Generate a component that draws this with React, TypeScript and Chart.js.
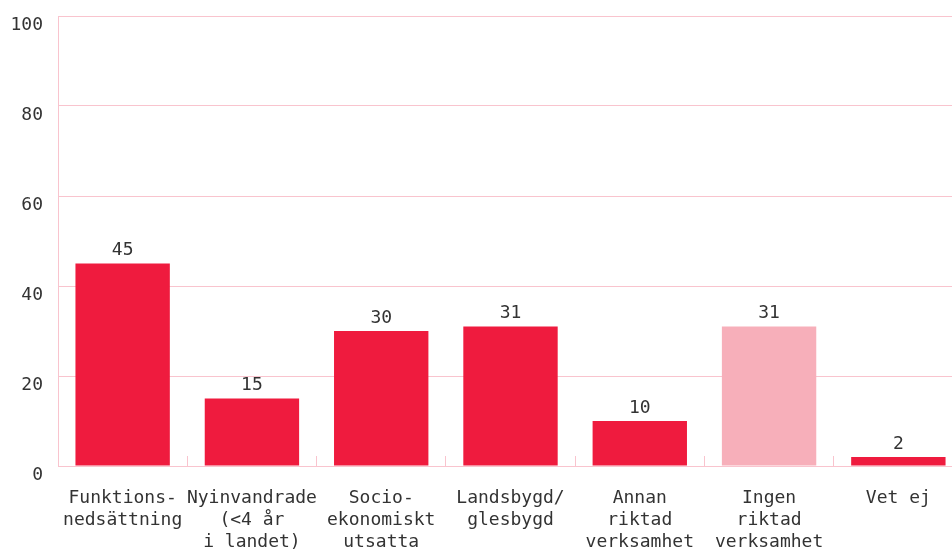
import React, { useEffect, useRef } from "react";
import { Chart, registerables } from "chart.js";

Chart.register(...registerables);

const categories: string[][] = [
  ["Funktions-", "nedsättning"],
  ["Nyinvandrade", "(<4 år", "i landet)"],
  ["Socio-", "ekonomiskt", "utsatta"],
  ["Landsbygd/", "glesbygd"],
  ["Annan", "riktad", "verksamhet"],
  ["Ingen", "riktad", "verksamhet"],
  ["Vet ej"],
];
const values: number[] = [45, 15, 30, 31, 10, 31, 2];
const barColors: string[] = ["#EF1B3E", "#EF1B3E", "#EF1B3E", "#EF1B3E", "#EF1B3E", "#F7AFBA", "#EF1B3E"];
const yTicks: number[] = [0, 20, 40, 60, 80, 100];

const FONT = "'DejaVu Sans Mono', 'Liberation Mono', monospace";
const TEXT = "#333333";
const GRID = "#F9C4CE";

const valueLabels = {
  id: "valueLabels",
  afterDatasetsDraw(chart: any) {
    const ctx = chart.ctx;
    const meta = chart.getDatasetMeta(0);
    ctx.save();
    ctx.font = `18px ${FONT}`;
    ctx.fillStyle = TEXT;
    ctx.textAlign = "center";
    ctx.textBaseline = "bottom";
    meta.data.forEach((el: any, i: number) => {
      ctx.fillText(String(values[i]), el.x, el.y - 4);
    });
    ctx.restore();
  },
};

export default function App() {
  const ref = useRef<HTMLCanvasElement | null>(null);
  useEffect(() => {
    document.body.style.margin = "0";
    document.body.style.overflow = "hidden";
    if (!ref.current) return;
    const chart = new Chart(ref.current, {
      type: "bar",
      data: {
        labels: categories,
        datasets: [
          {
            data: values,
            backgroundColor: barColors,
            barPercentage: 0.73,
            categoryPercentage: 1,
          },
        ],
      },
      options: {
        animation: false,
        responsive: false,
        maintainAspectRatio: false,
        layout: { padding: { left: 10, right: 7, top: 16, bottom: 0 } },
        plugins: { legend: { display: false }, tooltip: { enabled: false } },
        scales: {
          x: {
            afterFit: (axis: any) => {
              axis.paddingLeft = 0;
              axis.paddingRight = 0;
              axis.height = 88;
            },
            grid: {
              offset: true,
              drawOnChartArea: false,
              drawTicks: true,
              tickLength: -10,
              color: GRID,
              lineWidth: 1,
            },
            border: { color: GRID, width: 1 },
            ticks: {
              color: TEXT,
              font: { family: FONT, size: 18, lineHeight: 1.22 },
              padding: 31,
              maxRotation: 0,
              autoSkip: false,
            },
          },
          y: {
            min: 0,
            max: 100,
            afterBuildTicks: (axis: any) => {
              axis.ticks = yTicks.map((v) => ({ value: v }));
            },
            afterFit: (axis: any) => {
              axis.paddingTop = 0;
              axis.paddingBottom = 0;
              axis.width = 48;
            },
            grid: { color: GRID, drawTicks: false, lineWidth: 1 },
            border: { color: GRID, width: 1 },
            ticks: {
              color: TEXT,
              font: { family: FONT, size: 18 },
              padding: 15,
              labelOffset: 9,
            },
          },
        },
      },
      plugins: [valueLabels],
    });
    return () => chart.destroy();
  }, []);
  return (
    <div style={{ width: 952, height: 553, overflow: "hidden", position: "relative" }}>
      <canvas ref={ref} width={970} height={554} style={{ width: 970, height: 554, display: "block" }} />
    </div>
  );
}
